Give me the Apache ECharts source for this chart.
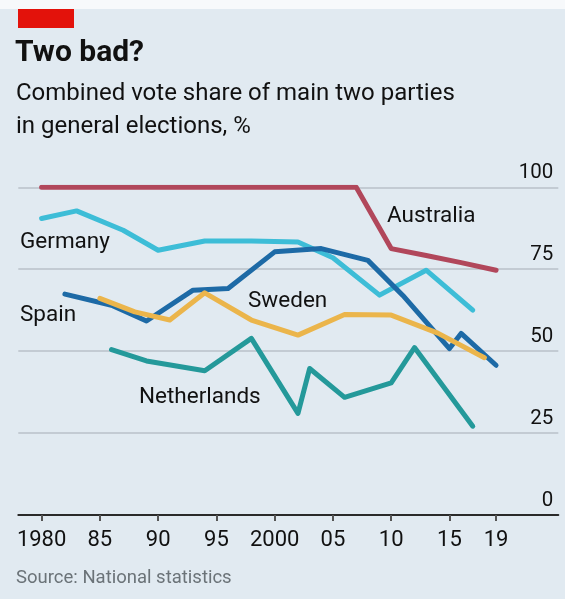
<!DOCTYPE html>
<html>
<head>
<meta charset="utf-8">
<script src="https://cdn.jsdelivr.net/npm/echarts@6/dist/echarts.min.js"></script>
<style>
html,body{margin:0;padding:0;background:#e1eaf1;}
#chart{width:565px;height:599px;}
</style>
</head>
<body>
<div id="chart"></div>
<script>
// ---- data ----
const tickYears = [1980, 1985, 1990, 1995, 2000, 2005, 2010, 2015, 2019];
const tickLabels = ['1980', '85', '90', '95', '2000', '05', '10', '15', '19'];
const yTicks = [0, 25, 50, 75, 100];

const australiaYears = [1980, 1983, 1984, 1987, 1990, 1993, 1996, 1998, 2001, 2004, 2007, 2010, 2013, 2016, 2019];
const australiaVals  = [100, 100, 100, 100, 100, 100, 100, 100, 100, 100, 100, 81.3, 79.2, 77.0, 74.7];

const germanyYears = [1980, 1983, 1987, 1990, 1994, 1998, 2002, 2005, 2009, 2013, 2017];
const germanyVals  = [90.5, 92.8, 86.9, 80.8, 83.6, 83.6, 83.3, 78.5, 67.1, 74.7, 62.5];

const spainYears = [1982, 1986, 1989, 1993, 1996, 2000, 2004, 2008, 2011, 2015, 2016, 2019];
const spainVals  = [67.4, 64.0, 59.2, 68.6, 69.1, 80.3, 81.3, 77.7, 67.0, 50.8, 55.4, 45.7];

const swedenYears = [1985, 1988, 1991, 1994, 1998, 2002, 2006, 2010, 2014, 2018];
const swedenVals  = [66.1, 62.0, 59.5, 67.8, 59.5, 54.9, 61.2, 61.0, 55.5, 48.0];

const netherlandsYears = [1986, 1989, 1994, 1998, 2002, 2003, 2006, 2010, 2012, 2017];
const netherlandsVals  = [50.5, 47.0, 44.0, 53.9, 31.0, 44.7, 35.9, 40.3, 51.1, 27.1];

const seriesNames = ['Netherlands', 'Germany', 'Spain', 'Sweden', 'Australia'];
// --------------------------------------

function pairs(xs, ys){ return xs.map((x,i)=>[x, ys[i]]); }

const FONT = 'Roboto, "Liberation Sans", sans-serif';
const colors = {
  Australia: '#b1475b',
  Germany: '#3dbdd7',
  Spain: '#1d6aa6',
  Sweden: '#ebb54b',
  Netherlands: '#24999a'
};
const dataMap = {
  Australia: pairs(australiaYears, australiaVals),
  Germany: pairs(germanyYears, germanyVals),
  Spain: pairs(spainYears, spainVals),
  Sweden: pairs(swedenYears, swedenVals),
  Netherlands: pairs(netherlandsYears, netherlandsVals)
};

const chart = echarts.init(document.getElementById('chart'), null, {renderer:'canvas'});

function label(text, x, y){
  return {type:'text', left:x, top:y, style:{text:text, fill:'#111', font:'22.5px ' + FONT}};
}

chart.setOption({
  backgroundColor:'#e1eaf1',
  animation:false,
  grid:{left:18.3, right:6.7, top:187.3, bottom:84, containLabel:false},
  xAxis:{
    type:'value', min:1978, max:2024.34,
    splitLine:{show:false},
    axisLine:{show:true, lineStyle:{color:'#2a2a2a', width:2}},
    axisTick:{show:true, customValues:tickYears, length:6, lineStyle:{color:'#555', width:2}},
    axisLabel:{customValues:tickYears, margin:14, fontSize:22, fontFamily:FONT, color:'#111',
      formatter:function(v){ const i = tickYears.indexOf(Math.round(v)); return i>=0 ? tickLabels[i] : ''; }}
  },
  yAxis:{
    type:'value', min:0, max:100, interval:25, position:'right',
    axisLine:{show:false}, axisTick:{show:false},
    splitLine:{show:true, lineStyle:{color:'#b9c1c8', width:1.5}},
    axisLabel:{inside:true, margin:5, align:'right', verticalAlign:'bottom', padding:[0,0,4,0],
      fontSize:20.5, fontFamily:FONT, color:'#111',
      formatter:function(v){ return yTicks.indexOf(v)>=0 ? String(v) : ''; }}
  },
  series: seriesNames.map(n=>({
    name:n, type:'line', data:dataMap[n], symbol:'none', smooth:false,
    lineStyle:{color:colors[n], width:5, cap:'round', join:'round'}
  })),
  graphic:[
    {type:'rect', left:0, top:0, shape:{width:565, height:9}, style:{fill:'#f7f9fb'}},
    {type:'rect', left:18, top:9, shape:{width:56, height:19}, style:{fill:'#e3120b'}},
    {type:'text', left:15, top:38, style:{text:'Two bad?', fill:'#111', font:'bold 30px ' + FONT}},
    {type:'text', left:16, top:77, style:{text:'Combined vote share of main two parties\nin general elections, %', fill:'#111', font:'24px ' + FONT, lineHeight:33}},
    label('Australia', 387, 205),
    label('Germany', 20, 231),
    label('Spain', 20, 304),
    label('Sweden', 248, 290),
    label('Netherlands', 139, 386),
    {type:'text', left:16, top:569, style:{text:'Source: National statistics', fill:'#6b7378', font:'18.5px ' + FONT}}
  ]
});
</script>
</body>
</html>
